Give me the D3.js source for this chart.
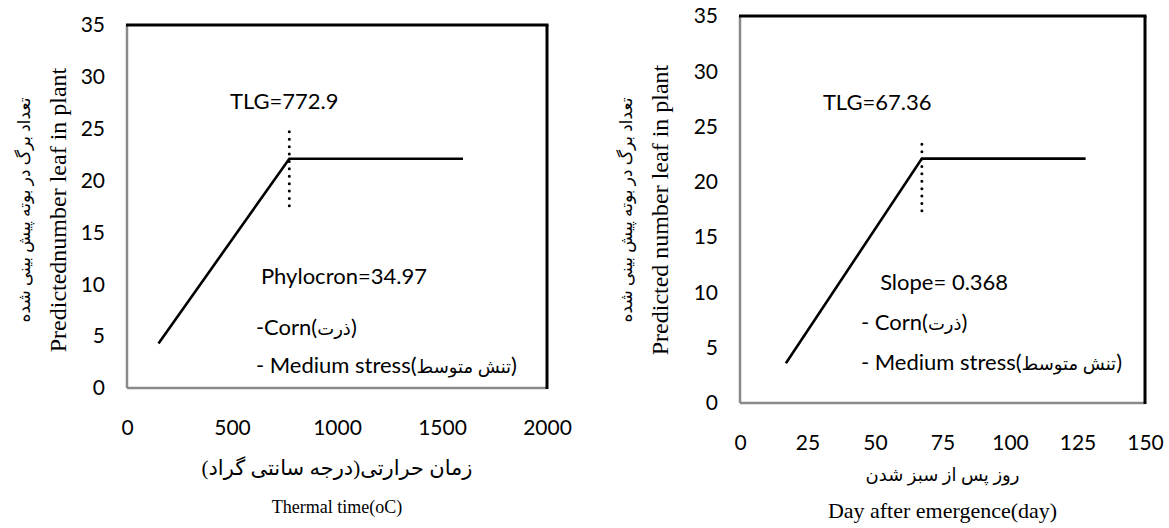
<!DOCTYPE html>
<html>
<head>
<meta charset="utf-8">
<script src="https://cdn.jsdelivr.net/npm/d3@7"></script>
<style>
  body { margin: 0; background: #fff; }
  svg { display: block; }
</style>
</head>
<body>
<svg id="chart" width="1169" height="528"></svg>
<script>
// ---- data ----
// left panel: leaf number vs thermal time
const thermalX = [150, 772.9, 1600];
const thermalLeaves = [4.3, 22.1, 22.1];
const thermalTlg = 772.9;
const thermalDotRange = [16.9, 24.7];
const thermalTicksX = [0, 500, 1000, 1500, 2000];

// right panel: leaf number vs days after emergence
const dayX = [17, 67.36, 128];
const dayLeaves = [3.6, 22.1, 22.1];
const dayTlg = 67.36;
const dayDotRange = [16.8, 23.4];
const dayTicksX = [0, 25, 50, 75, 100, 125, 150];

const leafTicks = [0, 5, 10, 15, 20, 25, 30, 35];

const svg = d3.select("#chart");
const tickFont = "Lato, 'DejaVu Sans', sans-serif";
const serifFont = "'Liberation Serif', 'DejaVu Sans', serif";
const persianRun = /([\u0600-\u06FF][\u0600-\u06FF\u200C ]*[\u0600-\u06FF])/;

function drawPanel(p) {
  const g = svg.append("g");
  const x = d3.scaleLinear().domain(p.xDomain).range([p.left, p.right]);
  const y = d3.scaleLinear().domain([0, 35]).range([p.bottom, p.top]);

  // y ticks
  g.append("g")
    .attr("transform", `translate(${p.left},0)`)
    .call(d3.axisLeft(y).tickValues(leafTicks).tickSize(0).tickPadding(22).tickFormat(d3.format("d")))
    .call(a => a.select(".domain").remove())
    .selectAll("text")
    .style("font-family", tickFont)
    .style("font-size", "21px")
    .style("fill", "#000");

  // x ticks
  g.append("g")
    .attr("transform", `translate(0,${p.bottom})`)
    .call(d3.axisBottom(x).tickValues(p.xTicks).tickSize(0).tickPadding(p.xPad).tickFormat(d3.format("d")))
    .call(a => a.select(".domain").remove())
    .selectAll("text")
    .style("font-family", tickFont)
    .style("font-size", "21px")
    .style("fill", "#000");

  // frame: grey left/bottom, black top/right
  g.append("line").attr("x1", p.left).attr("x2", p.left).attr("y1", p.top).attr("y2", p.bottom)
    .attr("stroke", "#8a8a8a").attr("stroke-width", 2.5);
  g.append("line").attr("x1", p.left).attr("x2", p.right).attr("y1", p.bottom).attr("y2", p.bottom)
    .attr("stroke", "#8a8a8a").attr("stroke-width", 2.5);
  g.append("line").attr("x1", p.left - 1).attr("x2", p.right + 1.5).attr("y1", p.top).attr("y2", p.top)
    .attr("stroke", "#000").attr("stroke-width", 3);
  g.append("line").attr("x1", p.right).attr("x2", p.right).attr("y1", p.top).attr("y2", p.bottom + 1)
    .attr("stroke", "#000").attr("stroke-width", 3);

  // segmented line
  const pts = p.xs.map((v, i) => [v, p.ys[i]]);
  g.append("path")
    .datum(pts)
    .attr("fill", "none")
    .attr("stroke", "#000")
    .attr("stroke-width", 2.6)
    .attr("d", d3.line().x(d => x(d[0])).y(d => y(d[1])));

  // dotted marker at TLG
  g.append("line")
    .attr("x1", x(p.tlg)).attr("x2", x(p.tlg))
    .attr("y1", y(p.dot[1])).attr("y2", y(p.dot[0]))
    .attr("stroke", "#000").attr("stroke-width", 3)
    .attr("stroke-linecap", "round")
    .attr("stroke-dasharray", "0,7.4");

  // annotations (persian parts a bit smaller, serif-ish like the original)
  p.notes.forEach(n => {
    const t = g.append("text")
      .attr("x", x(n.x)).attr("y", y(n.y))
      .attr("dy", "0.35em")
      .style("font-family", tickFont)
      .style("font-size", "22px")
      .style("direction", "ltr");
    n.text.split(persianRun).filter(s => s.length).forEach(part => {
      const ts = t.append("tspan").text(part);
      if (persianRun.test(part)) ts.style("font-size", "18px");
    });
  });

  // axis titles
  const cx = (p.left + p.right) / 2;
  g.append("text")
    .attr("x", cx).attr("y", p.faTitleY)
    .attr("text-anchor", "middle")
    .attr("direction", "rtl")
    .style("font-family", serifFont)
    .style("font-size", p.faTitleSize + "px")
    .text(p.faTitle);
  g.append("text")
    .attr("x", cx).attr("y", p.enTitleY)
    .attr("text-anchor", "middle")
    .style("font-family", serifFont)
    .style("font-size", p.enTitleSize + "px")
    .text(p.enTitle);

  const cy = p.yTitleCy;
  g.append("text")
    .attr("transform", `translate(${p.faYx},${cy}) rotate(-90)`)
    .attr("text-anchor", "middle")
    .attr("direction", "rtl")
    .style("font-family", serifFont)
    .style("font-size", "17px")
    .text("تعداد برگ در بوته پیش بینی شده");
  g.append("text")
    .attr("transform", `translate(${p.enYx},${cy}) rotate(-90)`)
    .attr("text-anchor", "middle")
    .style("font-family", serifFont)
    .style("font-size", "24px")
    .text(p.yTitle);
}

drawPanel({
  left: 127, right: 547, top: 25, bottom: 388,
  xDomain: [0, 2000], xTicks: thermalTicksX, xPad: 32,
  xs: thermalX, ys: thermalLeaves, tlg: thermalTlg, dot: thermalDotRange,
  notes: [
    { x: 490, y: 27.6, text: "TLG=772.9" },
    { x: 638, y: 10.8, text: "Phylocron=34.97" },
    { x: 614, y: 5.9, text: "-Corn(ذرت)" },
    { x: 614, y: 2.2, text: "- Medium stress(تنش متوسط)" }
  ],
  faTitle: "زمان حرارتی(درجه سانتی گراد)", faTitleY: 475, faTitleSize: 21,
  enTitle: "Thermal time(oC)", enTitleY: 513, enTitleSize: 18,
  yTitle: "Predictednumber leaf in plant", yTitleCy: 210, faYx: 30, enYx: 66
});

drawPanel({
  left: 740, right: 1145, top: 16, bottom: 403,
  xDomain: [0, 150], xTicks: dayTicksX, xPad: 32,
  xs: dayX, ys: dayLeaves, tlg: dayTlg, dot: dayDotRange,
  notes: [
    { x: 30.7, y: 27.2, text: "TLG=67.36" },
    { x: 51.9, y: 10.9, text: "Slope= 0.368" },
    { x: 44.8, y: 7.3, text: "- Corn(ذرت)" },
    { x: 44.8, y: 3.7, text: "- Medium stress(تنش متوسط)" }
  ],
  faTitle: "روز پس از سبز شدن", faTitleY: 481, faTitleSize: 18,
  enTitle: "Day after emergence(day)", enTitleY: 518, enTitleSize: 22,
  yTitle: "Predicted number leaf in plant", yTitleCy: 210, faYx: 632, enYx: 668
});
</script>
</body>
</html>
